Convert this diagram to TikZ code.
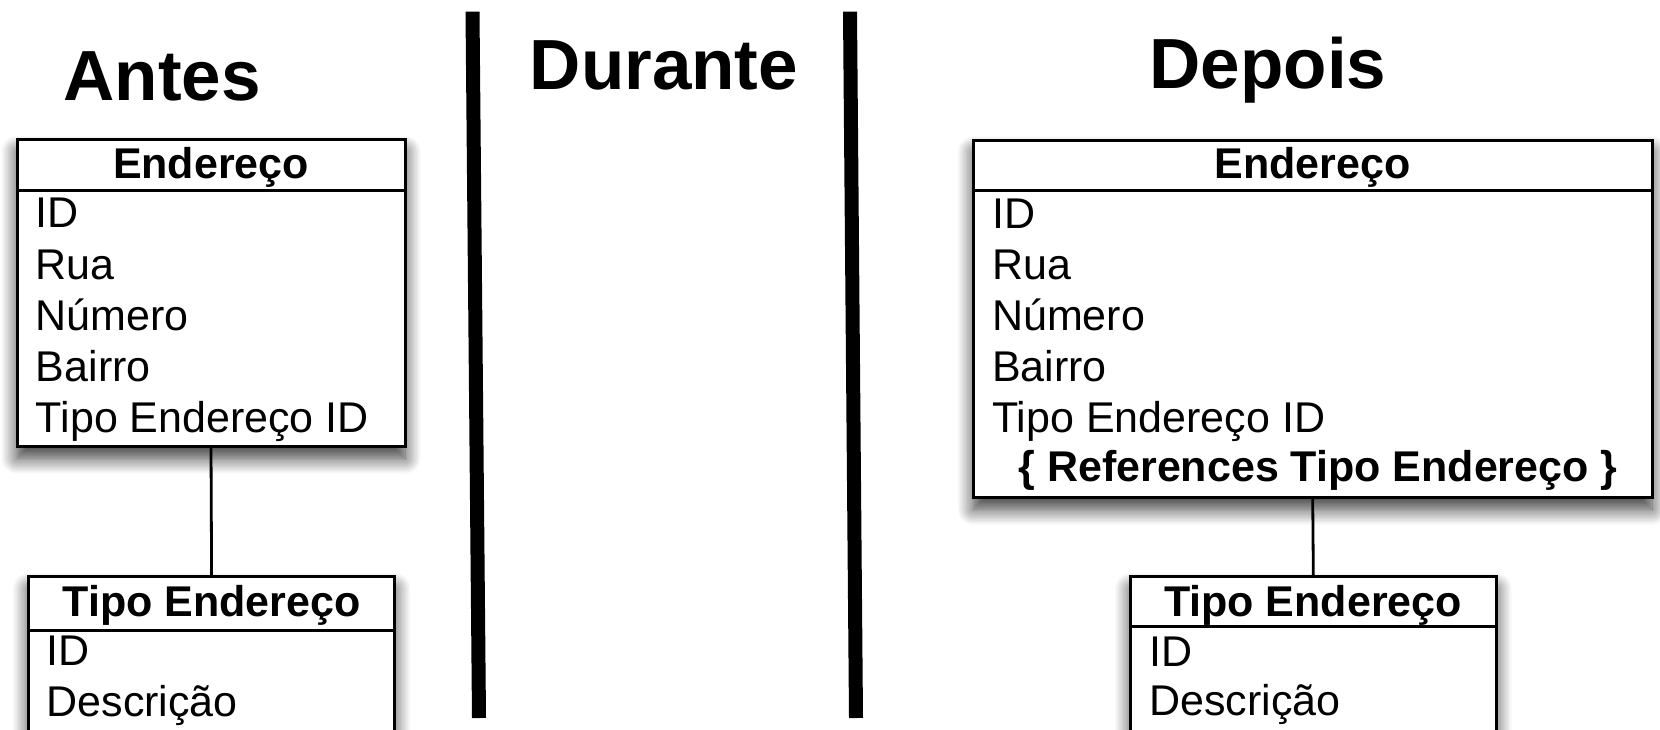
\documentclass[tikz,border=0pt]{standalone}
\usepackage{fontspec}
\setmainfont{Liberation Sans}
\usetikzlibrary{shadows.blur,calc}
\begin{document}
\begin{tikzpicture}[x=1pt,y=-1pt,
  title/.style={anchor=base, font=\fontsize{71}{85}\selectfont\bfseries, inner sep=0pt},
  tbl/.style={draw=black, line width=3pt, fill=white, rectangle, inner sep=0pt, outer sep=0pt,
    blur shadow={shadow xshift=0pt, shadow yshift=-12pt, shadow blur radius=16pt, shadow opacity=80, shadow blur steps=12}},
  hdr/.style={anchor=base, font=\fontsize{43}{50}\selectfont\bfseries, inner sep=0pt},
  fld/.style={anchor=base west, font=\fontsize{43}{50}\selectfont, inner sep=0pt},
  sepline/.style={line width=14pt},
  hline/.style={line width=3pt},
  link/.style={line width=2.8pt}]
\useasboundingbox (0,0) rectangle (1660,729);

% titles
\node[title] (antes) at (162,100) {Antes};
\node[title] (durante) at (664,89) {Durante};
\node[title] (depois) at (1268,88) {Depois};

% separators
\coordinate (s1a) at (472.5,11.6);
\coordinate (s1b) at (479,718);
\coordinate (s2a) at (850,11.6);
\coordinate (s2b) at (856,718);
\draw[sepline] (s1a) -- (s1b);
\draw[sepline] (s2a) -- (s2b);

% boxes
\node[tbl, minimum width=388pt, minimum height=306.5pt] (E1) at (211,292.75) {};
\node[tbl, minimum width=678.6pt, minimum height=357pt] (E2) at (1312.7,318.5) {};
\node[tbl, minimum width=366pt, minimum height=183.5pt] (T1) at (211.6,668.25) {};
\node[tbl, minimum width=365.3pt, minimum height=183.3pt] (T2) at (1313.35,668.35) {};

% header separators
\draw[hline] ($(E1.north west)+(0,51.1)$) -- ($(E1.north east)+(0,51.1)$);
\draw[hline] ($(E2.north west)+(0,50.7)$) -- ($(E2.north east)+(0,50.7)$);
\draw[hline] ($(T1.north west)+(0,53.5)$) -- ($(T1.north east)+(0,53.5)$);
\draw[hline] ($(T2.north west)+(0,49.3)$) -- ($(T2.north east)+(0,49.3)$);

% connectors
\draw[link] (E1.south) -- (T1.north);
\draw[link] (E2.south) -- (T2.north);

% left Endereco
\node[hdr] (e1h) at (211,178) {Endereço};
\node[fld] (e1a) at (35.7,227.8) {ID};
\node[fld] (e1b) at (35.7,279) {Rua};
\node[fld] (e1c) at (35.7,330) {Número};
\node[fld] (e1d) at (35.7,381) {Bairro};
\node[fld] (e1e) at (35.7,432) {Tipo Endereço ID};

% right Endereco
\node[hdr] (e2h) at (1312.7,178) {Endereço};
\node[fld] (e2a) at (992,228) {ID};
\node[fld] (e2b) at (992,279) {Rua};
\node[fld] (e2c) at (992,330) {Número};
\node[fld] (e2d) at (992,381) {Bairro};
\node[fld] (e2e) at (992,432.7) {Tipo Endereço ID};
\node[hdr] (e2f) at (1318,481.7) {\{ References Tipo Endereço \}};

% left Tipo Endereco
\node[hdr] (t1h) at (211.6,616) {Tipo Endereço};
\node[fld] (t1a) at (46.4,665) {ID};
\node[fld] (t1b) at (46.4,716) {Descrição};

% right Tipo Endereco
\node[hdr] (t2h) at (1313,616) {Tipo Endereço};
\node[fld] (t2a) at (1149,666) {ID};
\node[fld] (t2b) at (1149,715) {Descrição};
\end{tikzpicture}
\end{document}
